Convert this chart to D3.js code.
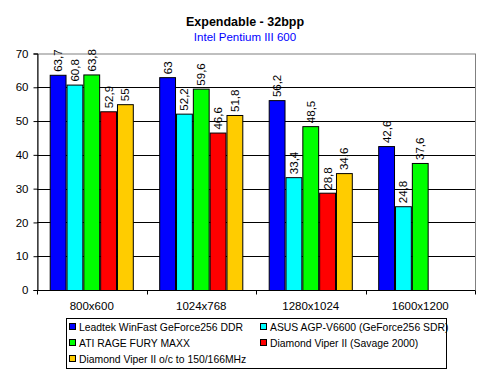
<!DOCTYPE html>
<html>
<head>
<meta charset="utf-8">
<script src="https://cdn.jsdelivr.net/npm/d3@7"></script>
<style>
  body { margin: 0; background: #fff; }
  text { font-family: "Liberation Sans", Arial, sans-serif; }
</style>
</head>
<body>
<svg id="chart"></svg>
<script>
// data
var resolutions = ["800x600", "1024x768", "1280x1024", "1600x1200"];
var cards = ["Leadtek WinFast GeForce256 DDR", "ASUS AGP-V6600 (GeForce256 SDR)",
  "ATI RAGE FURY MAXX", "Diamond Viper II (Savage 2000)", "Diamond Viper II o/c to 150/166MHz"];
var colors = ["#0000FF", "#00FFFF", "#00FF00", "#FF0000", "#FFCC00"];
var leadtek = [63.7, 63, 56.2, 42.6];
var asus = [60.8, 52.2, 33.4, 24.8];
var maxx = [63.8, 59.6, 48.5, 37.6];
var viper = [52.9, 46.6, 28.8, null];
var viperOc = [55, 51.8, 34.6, null];
var yTicks = [0, 10, 20, 30, 40, 50, 60, 70];

var series = [leadtek, asus, maxx, viper, viperOc];

var size = { width: 490, height: 377 };
var margin = { left: 37, right: 15, top: 53.5, bottom: 87 };

var svg = d3.select("#chart")
  .attr("width", size.width)
  .attr("height", size.height);

var x = d3.scaleBand()
  .domain(resolutions)
  .range([margin.left, size.width - margin.right])
  .paddingInner(0.232)
  .paddingOuter(0.116);

var xSub = d3.scaleBand()
  .domain(d3.range(cards.length))
  .range([0, x.bandwidth()]);

var y = d3.scaleLinear()
  .domain([0, 70])
  .range([size.height - margin.bottom, margin.top]);

// titles
svg.append("text")
  .attr("x", 245).attr("y", 26)
  .attr("text-anchor", "middle")
  .attr("font-size", 12.5).attr("font-weight", "bold")
  .text("Expendable - 32bpp");
svg.append("text")
  .attr("x", 245).attr("y", 41)
  .attr("text-anchor", "middle")
  .attr("font-size", 11.5).attr("fill", "#0000FF")
  .text("Intel Pentium III 600");

// plot border (gray) and gridlines
svg.append("rect")
  .attr("x", margin.left + 0.5).attr("y", y(70) + 0.5)
  .attr("width", size.width - margin.right - margin.left)
  .attr("height", y(0) - y(70))
  .attr("fill", "none").attr("stroke", "#808080");

svg.append("g")
  .selectAll("line")
  .data(yTicks.filter(d => d > 0 && d < 70))
  .enter()
  .append("line")
  .attr("x1", margin.left).attr("x2", size.width - margin.right)
  .attr("y1", d => Math.round(y(d)) + 0.5)
  .attr("y2", d => Math.round(y(d)) + 0.5)
  .attr("stroke", "#000");

// y axis
var yAxis = svg.append("g")
  .attr("transform", "translate(" + (margin.left + 0.5) + ",0)")
  .call(d3.axisLeft(y).tickValues(yTicks).tickSize(4).tickPadding(5));
yAxis.selectAll("text").attr("font-size", 11.5).attr("fill", "#000")
  .style("font-family", "Liberation Sans, Arial, sans-serif");
yAxis.selectAll("line, path").attr("stroke", "#000");

// bars
series.forEach(function(vals, si) {
  var g = svg.append("g");
  var data = vals.map((v, i) => ({ cat: resolutions[i], v: v })).filter(d => d.v != null);
  g.selectAll("rect")
    .data(data)
    .enter()
    .append("rect")
    .attr("x", d => x(d.cat) + xSub(si) + 0.5)
    .attr("y", d => y(d.v) + 0.5)
    .attr("width", xSub.bandwidth() - 1)
    .attr("height", d => y(0) - y(d.v))
    .attr("fill", colors[si])
    .attr("stroke", "#000");

  g.selectAll("text")
    .data(data)
    .enter()
    .append("text")
    .attr("transform", d => "translate(" + (x(d.cat) + xSub(si) + xSub.bandwidth() / 2 + 4) + "," + (y(d.v) - 3) + ") rotate(-90)")
    .attr("font-size", 11.5)
    .text(d => String(d.v).replace(".", ","));
});

// x axis
var xAxis = svg.append("g")
  .attr("transform", "translate(0," + (y(0) + 0.5) + ")");
xAxis.append("line")
  .attr("x1", margin.left).attr("x2", size.width - margin.right)
  .attr("stroke", "#000");
var edges = resolutions.map(r => x(r) - x.step() * x.paddingInner() / 2).concat([size.width - margin.right]);
xAxis.selectAll(".tick")
  .data(edges)
  .enter()
  .append("line")
  .attr("x1", d => Math.round(d) + 0.5).attr("x2", d => Math.round(d) + 0.5)
  .attr("y1", 0).attr("y2", 4)
  .attr("stroke", "#000");
xAxis.selectAll(".lbl")
  .data(resolutions)
  .enter()
  .append("text")
  .attr("x", d => x(d) + x.bandwidth() / 2)
  .attr("y", 19)
  .attr("text-anchor", "middle")
  .attr("font-size", 11.5)
  .text(d => d);

// legend
var legend = svg.append("g");
legend.append("rect")
  .attr("x", 66.5).attr("y", 318.5)
  .attr("width", 380).attr("height", 50)
  .attr("fill", "none").attr("stroke", "#000");
var legendPos = [[69, 327], [260, 327], [69, 343], [260, 343], [69, 359]];
var items = legend.selectAll(".item")
  .data(cards)
  .enter()
  .append("g")
  .attr("transform", (d, i) => "translate(" + legendPos[i][0] + "," + legendPos[i][1] + ")");
items.append("rect")
  .attr("x", 0.5).attr("y", -3.5)
  .attr("width", 6).attr("height", 6)
  .attr("fill", (d, i) => colors[i])
  .attr("stroke", "#000");
items.append("text")
  .attr("x", 10).attr("y", 4)
  .attr("font-size", 10.4)
  .text(d => d);
</script>
</body>
</html>
